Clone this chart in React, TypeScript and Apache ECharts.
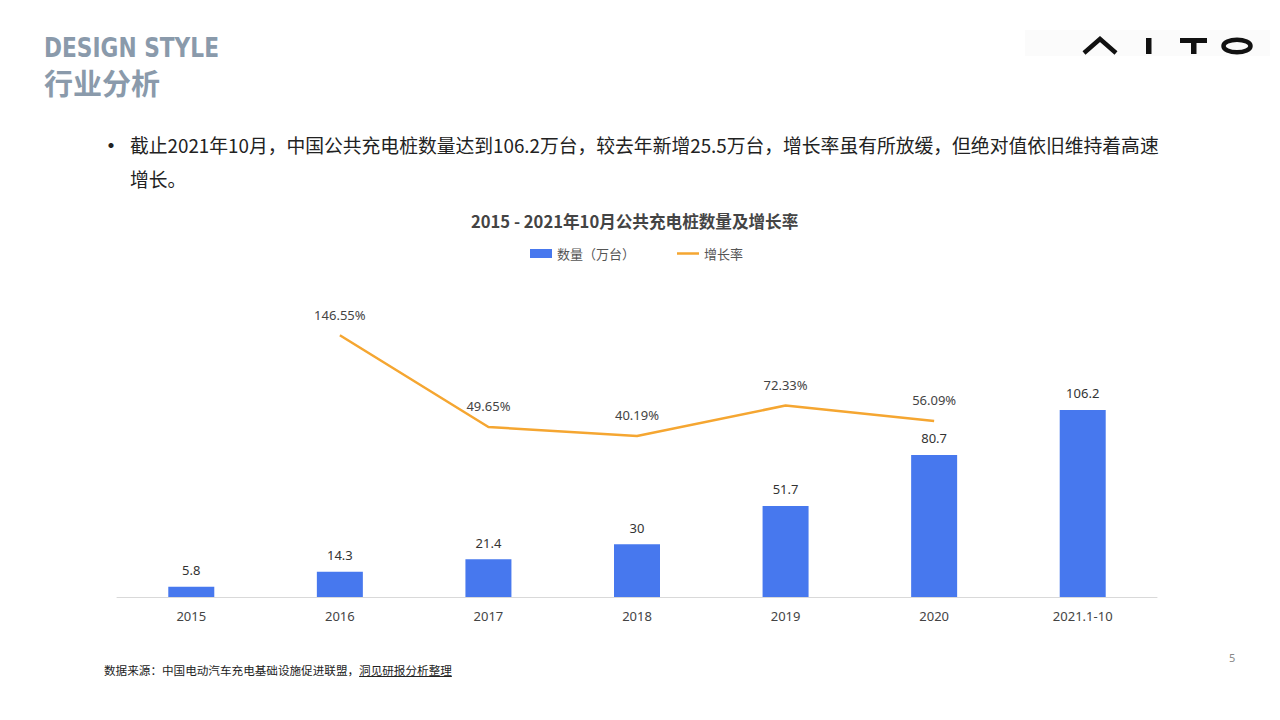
import React, { useEffect, useRef } from "react";
import * as echarts from "echarts";

const categories = ["2015", "2016", "2017", "2018", "2019", "2020", "2021.1-10"];
const counts = [5.8, 14.3, 21.4, 30, 51.7, 80.7, 106.2];
const growth: (number | null)[] = [null, 146.55, 49.65, 40.19, 72.33, 56.09, null];

const FONT = "'Noto Sans CJK SC', 'Noto Sans', sans-serif";
const NUMFONT = "'Noto Sans', 'Noto Sans CJK SC', sans-serif";

export default function App() {
  const ref = useRef<HTMLDivElement>(null);
  useEffect(() => {
    if (!ref.current) return;
    const chart = echarts.init(ref.current, undefined, { renderer: "svg" });
    chart.setOption({
      animation: false,
      textStyle: { fontFamily: FONT },
      title: {
        text: "2015 - 2021年10月公共充电桩数量及增长率",
        left: 466,
        top: 208,
        textStyle: { fontSize: 16.6, fontWeight: "bold", color: "#444", fontFamily: FONT },
      },
      legend: {
        left: 525,
        top: 242,
        itemWidth: 22,
        itemHeight: 9,
        itemGap: 42,
        textStyle: { fontSize: 13, color: "#555", fontFamily: FONT },
        data: [
          { name: "数量（万台）", icon: "rect" },
          { name: "增长率", icon: "path://M0,0M0,3.25L22,3.25L22,5.75L0,5.75ZM22,9" },
        ],
      },
      grid: { left: 117, right: 123, top: 280, bottom: 123 },
      xAxis: {
        type: "category",
        data: categories,
        axisLine: { lineStyle: { color: "#d9d9d9", width: 1 } },
        axisTick: { show: false },
        axisLabel: { color: "#444", fontSize: 13, margin: 12, fontFamily: NUMFONT },
      },
      yAxis: [
        { type: "value", min: 0, max: 180, show: false, splitLine: { show: false } },
        { type: "value", min: -130, max: 205, show: false, splitLine: { show: false } },
      ],
      series: [
        {
          name: "数量（万台）",
          type: "bar",
          data: counts,
          barWidth: 46,
          itemStyle: { color: "#4778EE" },
          label: {
            show: true,
            position: "top",
            distance: 10,
            color: "#333",
            fontSize: 13,
            fontFamily: NUMFONT,
          },
        },
        {
          name: "增长率",
          type: "line",
          yAxisIndex: 1,
          data: growth,
          symbol: "circle",
          symbolSize: 0.01,
          showSymbol: true,
          clip: false,
          lineStyle: { color: "#F5A631", width: 2.5 },
          itemStyle: { color: "#F5A631" },
          label: {
            show: true,
            position: "top",
            distance: 14,
            color: "#444",
            fontSize: 13,
            fontFamily: NUMFONT,
            formatter: (p: any) => (p.value == null ? "" : Number(p.value).toFixed(2) + "%"),
          },
        },
      ],
      graphic: [
        { type: "rect", shape: { x: 1025, y: 30, width: 245, height: 26 }, style: { fill: "#fbfbfb" } },
        {
          type: "polyline",
          shape: { points: [[1084, 53], [1100, 39], [1116, 53]] },
          style: { stroke: "#111", lineWidth: 4.5, fill: "none" },
        },
        { type: "rect", shape: { x: 1146, y: 38, width: 5.5, height: 16 }, style: { fill: "#111" } },
        { type: "rect", shape: { x: 1180, y: 38, width: 27, height: 5 }, style: { fill: "#111" } },
        { type: "rect", shape: { x: 1191, y: 38, width: 5.5, height: 16 }, style: { fill: "#111" } },
        {
          type: "ellipse",
          shape: { cx: 1237, cy: 46, rx: 13.5, ry: 6.3 },
          style: { stroke: "#111", lineWidth: 4.5, fill: "none" },
        },
      ],
    });
    return () => chart.dispose();
  }, []);

  return (
    <div style={{ position: "fixed", left: 0, top: 0, width: 1280, height: 720, background: "#fff", overflow: "hidden" }}>
      <div ref={ref} style={{ position: "absolute", left: 0, top: 0, width: 1280, height: 720 }} />
      <svg style={{ position: "absolute", left: 0, top: 0 }} width={1280} height={120}>
        <text
          x={44}
          y={57}
          textLength={175}
          lengthAdjust="spacingAndGlyphs"
          style={{ fontFamily: "'DejaVu Sans'", fontWeight: 700, fontSize: 26, fill: "#8a9aab" }}
        >
          DESIGN STYLE
        </text>
        <text
          x={44}
          y={95}
          textLength={116}
          lengthAdjust="spacingAndGlyphs"
          style={{ fontFamily: FONT, fontWeight: 700, fontSize: 29, fill: "#8a9aab" }}
        >
          行业分析
        </text>
      </svg>
      <div
        style={{
          position: "absolute",
          left: 100,
          top: 128,
          fontFamily: FONT,
          fontSize: 18.8,
          lineHeight: "34px",
          color: "#222",
          whiteSpace: "nowrap",
        }}
      >
        <div style={{ position: "relative" }}>
          <span style={{ position: "absolute", left: -1, top: -1, fontSize: 24 }}>•</span>
          <span style={{ marginLeft: 30 }}>截止2021年10月，中国公共充电桩数量达到106.2万台，较去年新增25.5万台，增长率虽有所放缓，但绝对值依旧维持着高速</span>
        </div>
        <div style={{ marginLeft: 30 }}>增长。</div>
      </div>
      <div
        style={{
          position: "absolute",
          left: 104,
          top: 662,
          fontFamily: FONT,
          fontSize: 11.6,
          color: "#222",
          whiteSpace: "nowrap",
        }}
      >
        数据来源：中国电动汽车充电基础设施促进联盟，
        <span style={{ textDecoration: "underline" }}>洞见研报分析整理</span>
      </div>
      <div
        style={{
          position: "absolute",
          left: 1229,
          top: 650,
          fontFamily: NUMFONT,
          fontSize: 11,
          color: "#888",
        }}
      >
        5
      </div>
    </div>
  );
}
